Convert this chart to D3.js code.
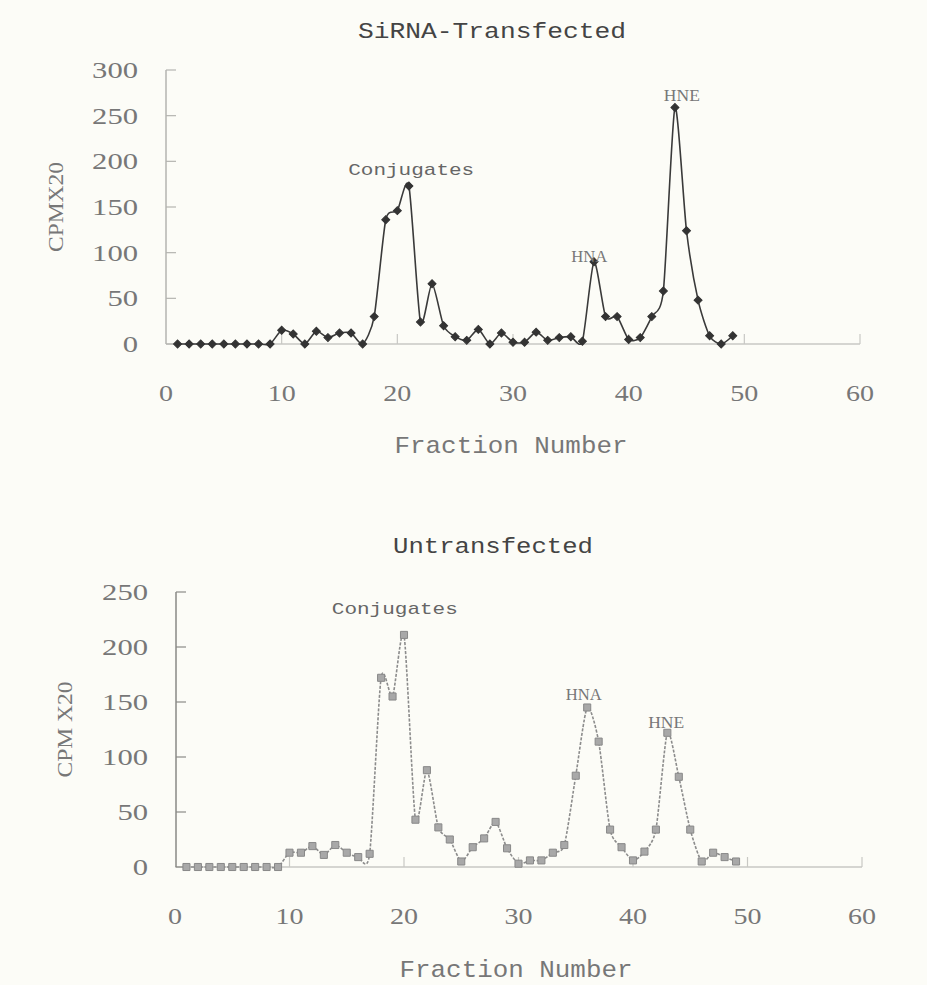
<!DOCTYPE html>
<html>
<head>
<meta charset="utf-8">
<script src="https://cdn.jsdelivr.net/npm/d3@7"></script>
<style>
  body { margin: 0; background: #fcfcf7; }
  svg { display: block; }
  .tick-label { font-family: "Liberation Serif", serif; fill: #777; }
  .mono { font-family: "Liberation Mono", monospace; }
</style>
</head>
<body>
<div id="chart"></div>
<script>
// fraction numbers (x) for both runs
var fractions = [1, 2, 3, 4, 5, 6, 7, 8, 9, 10, 11, 12, 13, 14, 15, 16, 17, 18, 19, 20,
  21, 22, 23, 24, 25, 26, 27, 28, 29, 30, 31, 32, 33, 34, 35, 36, 37, 38, 39, 40,
  41, 42, 43, 44, 45, 46, 47, 48, 49];

// CPM x20, siRNA transfected
var sirnaCpm = [0, 0, 0, 0, 0, 0, 0, 0, 0,
  15, 11, 0, 14, 7, 12, 12, 0, 30, 136,
  146, 173, 24, 66, 20, 8, 4, 16, 0, 12,
  2, 2, 13, 4, 7, 8, 3, 90, 30, 30,
  5, 7, 30, 58, 259, 124, 48, 9, 0, 9];

// CPM x20, untransfected
var untransCpm = [0, 0, 0, 0, 0, 0, 0, 0, 0,
  13, 13, 19, 11, 20, 13, 9, 12, 172, 155,
  211, 43, 88, 36, 25, 5, 18, 26, 41, 17,
  3, 6, 6, 13, 20, 83, 145, 114, 34, 18,
  6, 14, 34, 122, 82, 34, 5, 13, 9, 5];

var xTicks = [0, 10, 20, 30, 40, 50, 60];
var sirnaYTicks = [0, 50, 100, 150, 200, 250, 300];
var untransYTicks = [0, 50, 100, 150, 200, 250];

// peak labels, in data units
var sirnaPeaks = [
  { text: "Conjugates", x: 21.2, y: 185, mono: true },
  { text: "HNA", x: 36.6, y: 90 },
  { text: "HNE", x: 44.6, y: 266 }
];
var untransPeaks = [
  { text: "Conjugates", x: 19.2, y: 230, mono: true },
  { text: "HNA", x: 35.7, y: 152 },
  { text: "HNE", x: 42.9, y: 126 }
];

var width = 927, height = 985;

var svg = d3.select("#chart").append("svg")
  .attr("width", width)
  .attr("height", height);

function drawPanel(opt) {
  var x = d3.scaleLinear().domain([0, 60]).range(opt.xRange);
  var y = d3.scaleLinear().domain([0, opt.yMax]).range(opt.yRange);
  var g = svg.append("g");

  // title
  g.append("text")
    .attr("class", "mono")
    .attr("x", opt.titleX).attr("y", opt.titleY)
    .attr("text-anchor", "middle")
    .attr("font-size", 22)
    .attr("fill", "#444")
    .attr("textLength", opt.titleLen)
    .attr("lengthAdjust", "spacingAndGlyphs")
    .text(opt.title);

  // x axis line + inward ticks
  g.append("line")
    .attr("x1", x(0)).attr("x2", x(60))
    .attr("y1", y(0)).attr("y2", y(0))
    .attr("stroke", "#c8c8c4").attr("stroke-width", 1.5);

  g.selectAll(".xtick").data(xTicks.slice(1)).enter().append("line")
    .attr("x1", x).attr("x2", x)
    .attr("y1", y(0)).attr("y2", y(0) - 10)
    .attr("stroke", "#c8c8c4").attr("stroke-width", 1.2);

  g.selectAll(".xlab").data(xTicks).enter().append("text")
    .attr("class", "tick-label")
    .attr("x", x)
    .attr("y", y(0) + 57)
    .attr("text-anchor", "middle")
    .attr("font-size", 24)
    .attr("textLength", function (d) { return String(d).length * 14; })
    .attr("lengthAdjust", "spacingAndGlyphs")
    .text(function (d) { return d; });

  // y axis line + inward ticks
  g.append("line")
    .attr("x1", opt.yAxisX).attr("x2", opt.yAxisX)
    .attr("y1", y(0)).attr("y2", y(opt.yMax))
    .attr("stroke", opt.yAxisColor).attr("stroke-width", 1.5);

  g.selectAll(".ytick").data(opt.yTicks).enter().append("line")
    .attr("x1", opt.yAxisX).attr("x2", opt.yAxisX + 10)
    .attr("y1", y).attr("y2", y)
    .attr("stroke", opt.yAxisColor).attr("stroke-width", 1.2);

  g.selectAll(".ylab").data(opt.yTicks).enter().append("text")
    .attr("class", "tick-label")
    .attr("x", opt.yLabelX)
    .attr("y", function (d) { return y(d) + 8; })
    .attr("text-anchor", "end")
    .attr("font-size", 24)
    .attr("textLength", function (d) { return String(d).length * 15.3; })
    .attr("lengthAdjust", "spacingAndGlyphs")
    .text(function (d) { return d; });

  // axis titles
  g.append("text")
    .attr("class", "tick-label")
    .attr("transform", "translate(" + opt.yTitleX + "," + ((y(0) + y(opt.yMax)) / 2 + opt.yTitleShift) + ") rotate(-90)")
    .attr("text-anchor", "middle")
    .attr("font-size", 20)
    .attr("textLength", opt.yTitleLen)
    .attr("lengthAdjust", "spacingAndGlyphs")
    .text(opt.yTitle);

  g.append("text")
    .attr("class", "mono")
    .attr("x", opt.xTitleX).attr("y", y(0) + opt.xTitleDy)
    .attr("text-anchor", "middle")
    .attr("font-size", 24)
    .attr("fill", "#777")
    .attr("textLength", 233)
    .attr("lengthAdjust", "spacingAndGlyphs")
    .text("Fraction Number");

  // series
  var pts = fractions.map(function (f, i) { return [f, opt.values[i]]; });

  var line = d3.line()
    .x(function (d) { return x(d[0]); })
    .y(function (d) { return y(d[1]); })
    .curve(d3.curveCardinal.tension(0.3));

  g.append("path")
    .datum(pts)
    .attr("fill", "none")
    .attr("stroke", opt.lineColor)
    .attr("stroke-width", opt.lineWidth)
    .attr("stroke-dasharray", opt.dash)
    .attr("d", line);

  g.selectAll(".pt").data(pts).enter().append("path")
    .attr("transform", function (d) {
      return "translate(" + x(d[0]) + "," + y(d[1]) + ") rotate(" + opt.symbolRotate + ")";
    })
    .attr("d", d3.symbol().type(opt.symbol).size(opt.symbolSize))
    .attr("fill", opt.markFill)
    .attr("stroke", opt.markStroke)
    .attr("stroke-width", 1);

  // peak labels
  g.selectAll(".peak").data(opt.peaks).enter().append("text")
    .attr("class", function (d) { return d.mono ? "mono" : "tick-label"; })
    .attr("x", function (d) { return x(d.x); })
    .attr("y", function (d) { return y(d.y); })
    .attr("text-anchor", "middle")
    .attr("font-size", 17)
    .attr("fill", "#666")
    .attr("textLength", function (d) { return d.mono ? 126 : 36; })
    .attr("lengthAdjust", "spacingAndGlyphs")
    .text(function (d) { return d.text; });
}

drawPanel({
  title: "SiRNA-Transfected", titleX: 492, titleY: 38, titleLen: 268,
  xRange: [166, 860], yRange: [344, 70], yMax: 300,
  yTicks: sirnaYTicks, yAxisX: 166, yAxisColor: "#b4b4b0", yLabelX: 138,
  yTitle: "CPMX20", yTitleX: 63, yTitleShift: 0, yTitleLen: 90,
  xTitleX: 511, xTitleDy: 109,
  values: sirnaCpm, lineColor: "#3a3a3a", lineWidth: 1.6, dash: null,
  symbol: d3.symbolSquare, symbolRotate: 45, symbolSize: 32, markFill: "#333", markStroke: "#333",
  peaks: sirnaPeaks
});

drawPanel({
  title: "Untransfected", titleX: 493, titleY: 553, titleLen: 200,
  xRange: [175, 862], yRange: [867, 592], yMax: 250,
  yTicks: untransYTicks, yAxisX: 176, yAxisColor: "#8a8a86", yLabelX: 148,
  yTitle: "CPM X20", yTitleX: 72, yTitleShift: 0, yTitleLen: 96,
  xTitleX: 516, xTitleDy: 110,
  values: untransCpm, lineColor: "#8c8c8c", lineWidth: 1.6, dash: "3,1.5",
  symbol: d3.symbolSquare, symbolRotate: 0, symbolSize: 50, markFill: "#a8a8a8", markStroke: "#888",
  peaks: untransPeaks
});
</script>
</body>
</html>
